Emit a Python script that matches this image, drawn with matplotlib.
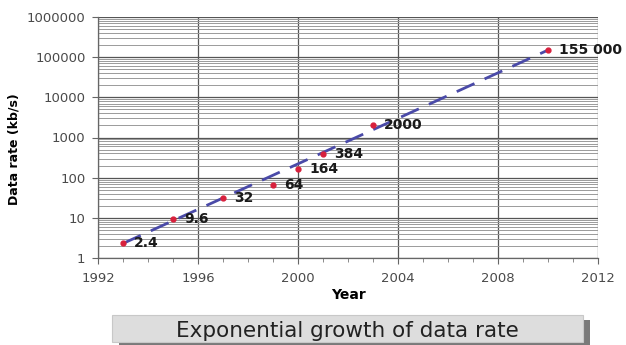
import matplotlib
matplotlib.use("Agg")
import matplotlib.pyplot as plt
from matplotlib.patches import Rectangle
from matplotlib.ticker import LogLocator, FixedLocator, NullFormatter

plt.rcParams['font.family'] = ['DejaVu Sans']

# Measured data rates by year
years = [1993, 1995, 1997, 1999, 2000, 2001, 2003, 2010]
rates = [2.4, 9.6, 32, 64, 164, 384, 2000, 155000]
labels = ["2.4", "9.6", "32", "64", "164", "384", "2000", "155 000"]

# Exponential trend line end points
trend_years = [1993, 2010]
trend_rates = [2.3, 150000]

x_ticks = [1992, 1996, 2000, 2004, 2008, 2012]
y_ticks = [1, 10, 100, 1000, 10000, 100000, 1000000]
y_ticklabels = ["1", "10", "100", "1000", "10000", "100000", "1000000"]

fig = plt.figure(figsize=(6.26, 3.45), dpi=100)
ax = fig.add_axes([98 / 626, 1 - 258 / 345, 500 / 626, 241 / 345])

ax.set_yscale('log')
ax.set_xlim(1992, 2012)
ax.set_ylim(1, 1000000)

ax.set_xticks(x_ticks)
ax.set_xticklabels([str(v) for v in x_ticks])
ax.xaxis.set_minor_locator(FixedLocator(range(1992, 2013)))
ax.set_yticks(y_ticks)
ax.set_yticklabels(y_ticklabels)
ax.yaxis.set_minor_locator(LogLocator(base=10, subs=range(2, 10), numticks=20))
ax.yaxis.set_minor_formatter(NullFormatter())

ax.grid(True, which='major', axis='both', color='#555555', lw=0.9)
ax.grid(True, which='minor', axis='y', color='#9a9a9a', lw=0.7)
ax.set_axisbelow(True)

for s in ['top', 'right']:
    ax.spines[s].set_visible(False)
for s in ['left', 'bottom']:
    ax.spines[s].set_color('#666666')
    ax.spines[s].set_linewidth(0.9)

ax.tick_params(axis='both', which='major', labelsize=9.5, labelcolor='#4a4a4a',
               color='#666666', length=4, direction='out')
ax.tick_params(axis='x', which='minor', length=3, color='#777777', direction='out')
ax.tick_params(axis='y', which='minor', length=0)
ax.tick_params(axis='x', which='major', pad=6)
ax.tick_params(axis='y', which='major', pad=5)

ax.plot(trend_years, trend_rates, color='#4a4aa8', lw=2.0,
        linestyle=(0, (7, 4)), zorder=3)
ax.plot(years, rates, linestyle='none', marker='o', ms=3.5,
        color='#d8203c', zorder=4)

for x, y, t in zip(years, rates, labels):
    ax.annotate(t, (x, y), xytext=(8, 0), textcoords='offset points',
                fontsize=10, fontweight='bold', color='#1a1a1a',
                va='center', ha='left', zorder=5, annotation_clip=False)

ax.set_xlabel('Year', fontsize=10, fontweight='bold', labelpad=2)
ax.set_ylabel('Data rate (kb/s)', fontsize=9, fontweight='bold')
ax.yaxis.set_label_coords(-0.154, 0.45)

# Caption box with drop shadow
fig.patches.append(Rectangle((119 / 626, 0), 471 / 626, 25 / 345,
                             transform=fig.transFigure, facecolor='#7a7a7a',
                             edgecolor='none', zorder=0))
fig.patches.append(Rectangle((112 / 626, 3 / 345), 471 / 626, 27 / 345,
                             transform=fig.transFigure, facecolor='#dddddd',
                             edgecolor='#c8c8c8', lw=0.8, zorder=1))
fig.text(347 / 626, 1 - 337 / 345, 'Exponential growth of data rate',
         fontsize=15.5, color='#222222', ha='center', va='baseline', zorder=2)

fig.savefig('out.png', dpi=100)
